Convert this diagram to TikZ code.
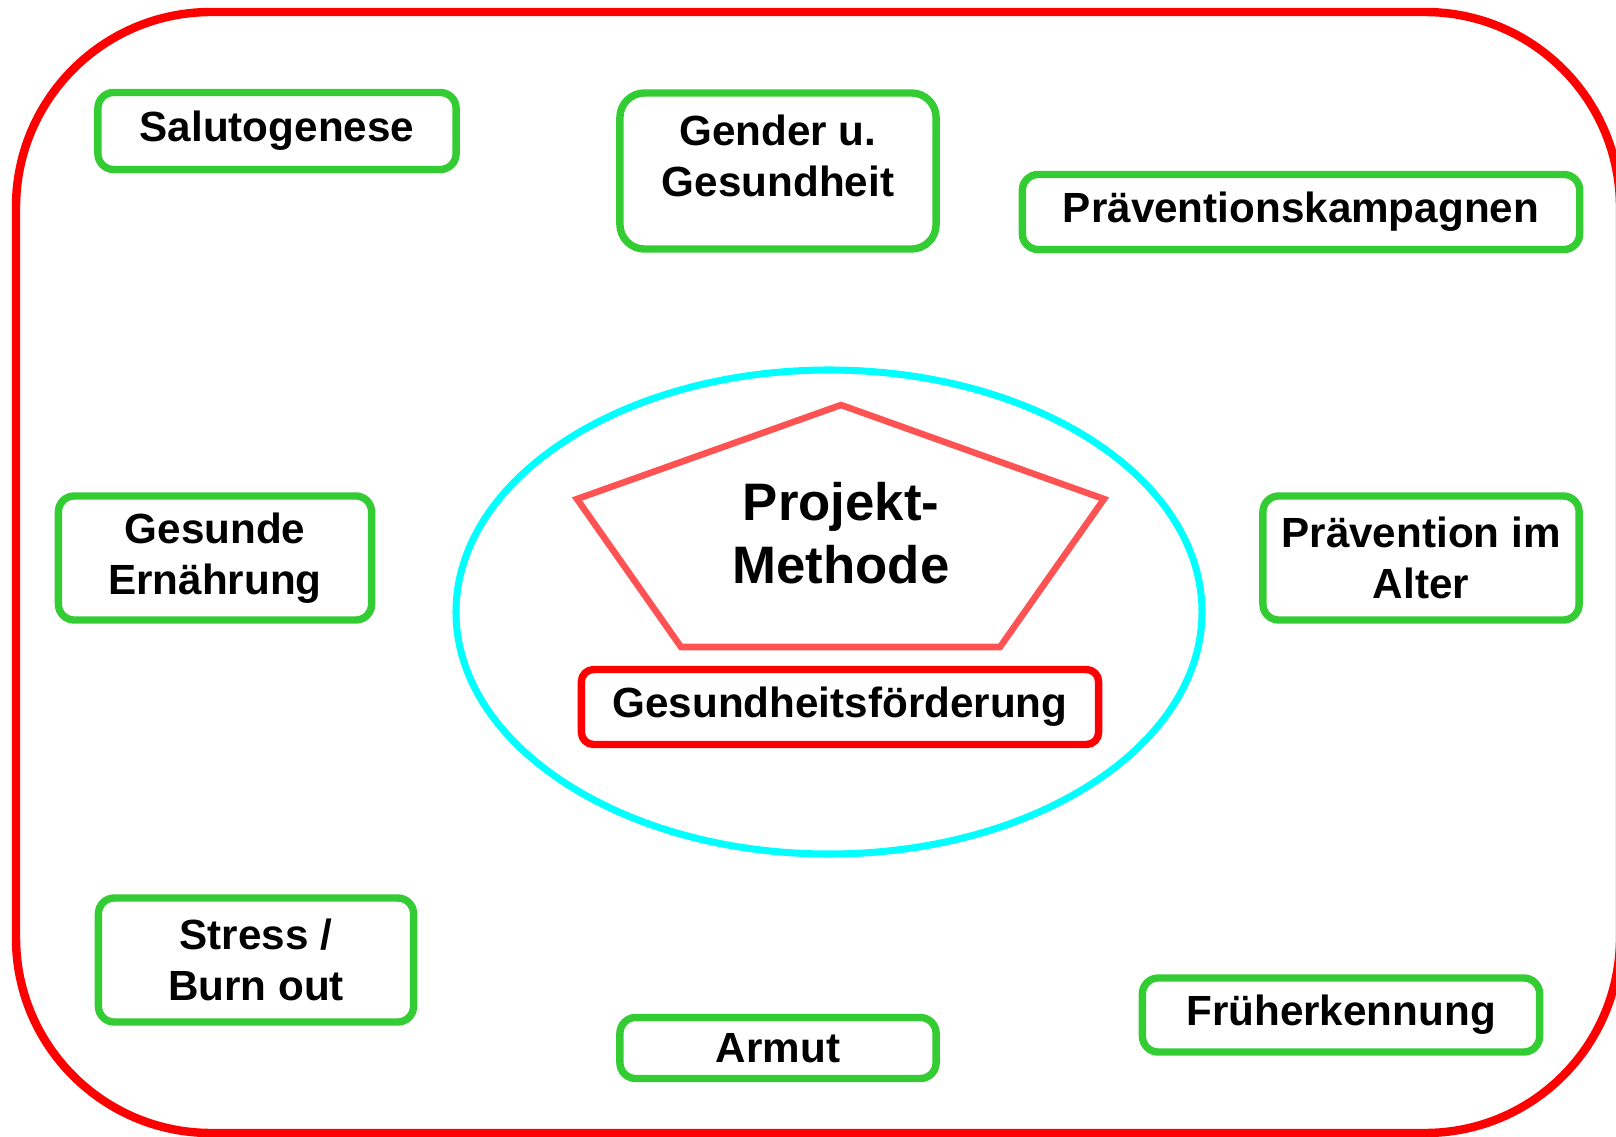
\documentclass[tikz,border=0pt]{standalone}
\usepackage{fontspec}
\setmainfont{Liberation Sans}
\usepackage{xcolor}
\usetikzlibrary{
    calc,
    positioning,
    shapes.geometric
}
\definecolor{framered}{HTML}{FF0000}
\definecolor{topicgreen}{HTML}{33CC33}
\definecolor{pentared}{HTML}{FF5252}
\definecolor{ringcyan}{HTML}{00FFFF}

\begin{document}
\begin{tikzpicture}[x=0.01cm,y=-0.01cm,
    topic/.style={draw=topicgreen,line width=2.1pt,rounded corners=4.5pt,
        align=center,inner sep=0pt,font=\bfseries\fontsize{12}{14.5}\selectfont},
    core/.style={topic,draw=framered}]
\useasboundingbox (0,0) rectangle (1616,1137);
\clip (0,0) rectangle (1616,1137);

% Outer frame
\draw[framered,line width=2.4pt,rounded corners=1.95cm] (16,12) rectangle (1620,1133);

% Centre: ring, pentagon, core topic
\draw[ringcyan,line width=2pt] (829,612) ellipse (373 and 242);
\draw[pentared,line width=1.85pt] (841,405) -- (1104,499) -- (1000,647) -- (681,647) -- (577,499) -- cycle;
\node[font=\bfseries\fontsize{15}{18}\selectfont,align=center] (methode) at (841,533) {Projekt-\\Methode};
\node[core,minimum width=5.17cm,minimum height=0.75cm,rounded corners=3.5pt] (foerderung) at (840,707) {Gesundheitsförderung};

% Topics round the centre
\node[topic,minimum width=3.58cm,minimum height=0.77cm] (saluto) at (277,131) {Salutogenese};
\node[topic,minimum width=3.16cm,minimum height=1.56cm,rounded corners=7pt,text depth=0.3cm] (gender) at (778,171) {Gender u.\\Gesundheit};
\node[topic,minimum width=5.57cm,minimum height=0.75cm] (kampagnen) at (1301,212) {Präventionskampagnen};
\node[topic,minimum width=3.13cm,minimum height=1.24cm] (ernaehrung) at (215,558) {Gesunde\\Ernährung};
\node[topic,minimum width=3.16cm,minimum height=1.24cm] (alter) at (1421,558) {Prävention im\\Alter};
\node[topic,minimum width=3.15cm,minimum height=1.24cm] (stress) at (256,960) {Stress /\\Burn out};
\node[topic,minimum width=3.16cm,minimum height=0.61cm] (armut) at (778,1048) {Armut};
\node[topic,minimum width=3.97cm,minimum height=0.74cm] (frueh) at (1341,1015) {Früherkennung};
\end{tikzpicture}
\end{document}
